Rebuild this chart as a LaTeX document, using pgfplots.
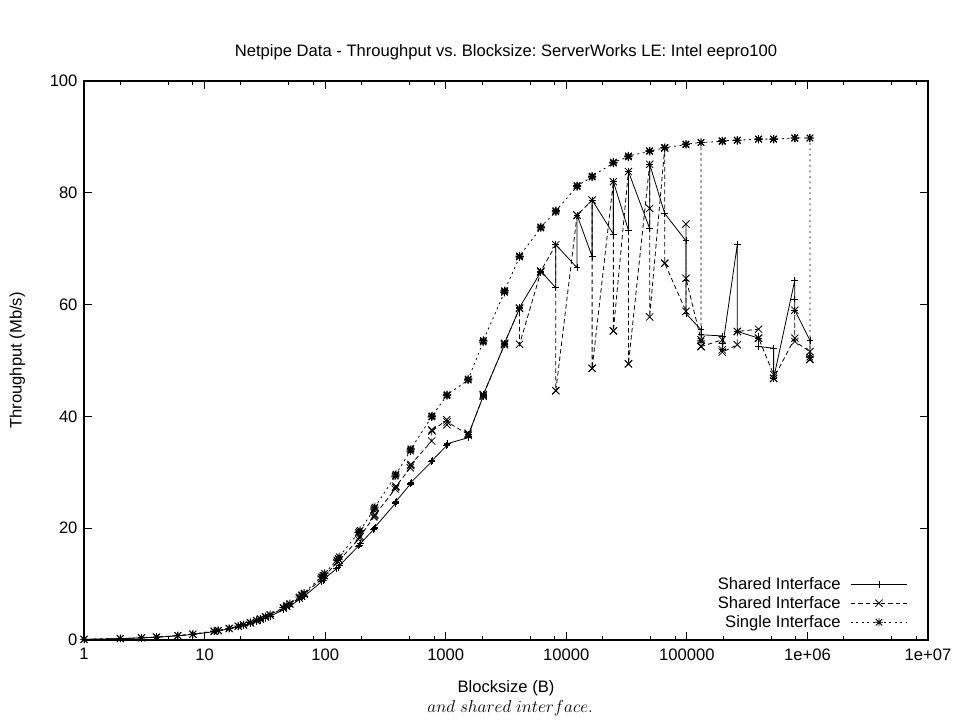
\documentclass[border=0pt]{standalone}
\usepackage{fontspec}
\usepackage{pgfplots}
\pgfplotsset{compat=1.18}
\usepackage{pgfplotstable}
\newfontfamily\arial{Liberation Sans}
\frenchspacing

\pgfdeclareplotmark{gpstar}{%
  \pgfpathmoveto{\pgfqpoint{-\pgfplotmarksize}{0pt}}\pgfpathlineto{\pgfqpoint{\pgfplotmarksize}{0pt}}%
  \pgfpathmoveto{\pgfqpoint{0pt}{-\pgfplotmarksize}}\pgfpathlineto{\pgfqpoint{0pt}{\pgfplotmarksize}}%
  \pgfpathmoveto{\pgfqpoint{-0.8\pgfplotmarksize}{-0.8\pgfplotmarksize}}\pgfpathlineto{\pgfqpoint{0.8\pgfplotmarksize}{0.8\pgfplotmarksize}}%
  \pgfpathmoveto{\pgfqpoint{-0.8\pgfplotmarksize}{0.8\pgfplotmarksize}}\pgfpathlineto{\pgfqpoint{0.8\pgfplotmarksize}{-0.8\pgfplotmarksize}}%
  \pgfusepathqstroke}
\pgfdeclareplotmark{gpx}{%
  \pgfpathmoveto{\pgfqpoint{-\pgfplotmarksize}{-\pgfplotmarksize}}\pgfpathlineto{\pgfqpoint{\pgfplotmarksize}{\pgfplotmarksize}}%
  \pgfpathmoveto{\pgfqpoint{-\pgfplotmarksize}{\pgfplotmarksize}}\pgfpathlineto{\pgfqpoint{\pgfplotmarksize}{-\pgfplotmarksize}}%
  \pgfusepathqstroke}

% Shared Interface (solid, +)
\pgfplotstableread{
x y
1 0.12
2 0.25
3 0.38
4 0.50
6 0.75
8 1.00
12 1.50
13 1.63
16 2.00
19 2.35
21 2.60
24 2.95
27 3.30
29 3.55
32 3.90
35 4.25
45 5.40
48 5.80
51 6.10
61 7.20
64 7.50
67 7.80
93 10.4
96 10.7
99 11.0
125 12.8
128 13.0
131 13.3
189 16.8
192 17.0
195 17.2
253 19.8
256 20.0
259 20.2
381 24.4
384 24.6
387 24.8
509 27.9
512 28.0
515 28.2
765 31.9
768 32.0
771 32.1
1021 34.8
1024 35.0
1027 35.1
1533 36.2
1536 36.5
1539 36.7
2045 43.6
2048 43.8
2051 43.9
3069 52.8
3072 53.0
3075 53.1
4093 59.3
4096 59.4
4099 59.5
6141 65.8
6144 65.9
6147 66.0
8189 63.0
8192 70.7
8195 70.7
12285 66.6
12288 76.0
12291 76.0
16381 68.6
16384 78.7
16387 78.7
24573 72.6
24576 82.0
24579 82.0
32765 73.3
32768 83.8
32771 83.8
49149 73.6
49152 85.1
49155 85.1
65533 76.3
65536 76.3
65539 76.3
98301 71.4
98304 64.4
98307 58.4
131069 55.5
131072 54.6
131075 54.6
196605 54.4
196608 53.0
196611 52.0
262141 70.8
262144 55.2
262147 55.2
393213 54.0
393216 52.5
393219 52.5
524285 52.2
524288 46.8
524291 46.8
786429 64.4
786432 61.0
786435 59.0
1048573 53.6
1048576 53.6
1048579 50.6
}\tA

% Shared Interface (dashed, x)
\pgfplotstableread{
x y
1 0.12
2 0.26
3 0.39
4 0.52
6 0.78
8 1.04
12 1.55
13 1.68
16 2.05
19 2.45
21 2.70
24 3.05
27 3.45
29 3.70
32 4.10
35 4.45
45 5.70
48 6.00
51 6.40
61 7.50
64 7.90
67 8.20
93 10.9
96 11.2
99 11.5
125 13.8
128 14.0
131 14.3
189 18.0
192 18.3
195 18.5
253 22.0
256 22.2
259 22.4
381 27.0
384 27.3
387 27.5
509 30.8
512 31.2
515 31.4
765 35.6
768 37.6
771 37.4
1021 39.4
1024 38.5
1027 39.0
1533 36.8
1536 37.0
1539 36.6
2045 43.6
2048 43.8
2051 43.9
3069 52.8
3072 53.0
3075 53.1
4093 59.3
4096 59.4
4099 52.9
6141 65.8
6144 65.9
6147 66.0
8189 70.7
8192 44.6
8195 44.6
12285 76.0
12288 76.0
12291 76.0
16381 78.7
16384 48.6
16387 48.6
24573 82.0
24576 55.3
24579 55.3
32765 83.8
32768 49.4
32771 49.4
49149 85.1
49152 77.2
49155 57.8
65533 88.0
65536 67.4
65539 67.4
98301 58.8
98304 74.4
98307 64.7
131069 53.7
131072 52.5
131075 52.5
196605 53.7
196608 51.9
196611 51.5
262141 52.8
262144 55.2
262147 55.2
393213 55.6
393216 54.0
393219 54.0
524285 47.5
524288 46.8
524291 46.8
786429 54.0
786432 59.0
786435 53.4
1048573 51.6
1048576 50.2
1048579 50.2
}\tB

% Single Interface (dotted, star)
\pgfplotstableread{
x y
1 0.13
2 0.27
3 0.40
4 0.53
6 0.80
8 1.06
12 1.60
13 1.73
16 2.10
19 2.50
21 2.75
24 3.15
27 3.50
29 3.80
32 4.20
35 4.55
45 5.80
48 6.20
51 6.50
61 7.70
64 8.10
67 8.40
93 11.3
96 11.6
99 11.9
125 14.3
128 14.6
131 14.9
189 19.2
192 19.4
195 19.6
253 23.3
256 23.6
259 23.8
381 29.3
384 29.5
387 29.7
509 33.8
512 34.0
515 34.2
765 39.9
768 40.0
771 40.1
1021 43.7
1024 43.8
1027 43.9
1533 46.5
1536 46.6
1539 46.7
2045 53.3
2048 53.5
2051 53.6
3069 62.2
3072 62.4
3075 62.5
4093 68.5
4096 68.6
4099 68.7
6141 73.7
6144 73.8
6147 73.9
8189 76.6
8192 76.7
8195 76.8
12285 81.1
12288 81.2
12291 81.3
16381 82.8
16384 82.9
16387 83.0
24573 85.3
24576 85.4
24579 85.5
32765 86.4
32768 86.5
32771 86.6
49149 87.4
49152 87.5
49155 87.5
65533 88.0
65536 88.1
65539 88.1
98301 88.6
98304 88.7
98307 88.7
131069 89.0
131072 53.5
131075 89.0
196605 89.2
196608 89.3
196611 89.3
262141 89.4
262144 89.4
262147 89.4
393213 89.6
393216 89.6
393219 89.6
524285 89.6
524288 89.6
524291 89.6
786429 89.8
786432 89.8
786435 89.8
1048573 89.8
1048576 89.8
1048579 50.6
}\tS

\begin{document}
\begin{tikzpicture}[font=\arial\fontsize{16.6}{19}\selectfont]
\begin{axis}[
  scale only axis, width=844pt, height=559pt,
  xmode=log, log basis x=10,
  xmin=1, xmax=1e7, ymin=0, ymax=100,
  xtick={1,10,100,1000,10000,100000,1000000,10000000},
  xticklabels={1,10,100,1000,10000,100000,1e+06,1e+07},
  minor xtick={2,5,8,20,50,80,200,500,800,2000,5000,8000,20000,50000,80000,200000,500000,800000,2000000,5000000,8000000},
  ytick={0,20,40,60,80,100},
  /pgf/number format/assume math mode=true,
  tick align=inside,
  major tick length=8pt, minor tick length=4pt,
  tick style={black, line width=0.9pt},
  axis line style={line width=1.2pt},
  xticklabel style={yshift=-5pt},
  yticklabel style={xshift=-3pt},
  title={Netpipe Data - Throughput vs.\ Blocksize: ServerWorks LE: Intel eepro100},
  title style={at={(axis description cs:0.5,1.041)}, anchor=center, yshift=0pt},
  xlabel={Blocksize (B)},
  xlabel style={at={(axis description cs:0.5,-0.086)}, anchor=center},
  ylabel={Throughput (Mb/s)},
  ylabel style={at={(axis description cs:-0.079,0.5)}, anchor=center},
  legend style={draw=none, fill=none, at={(axis description cs:0.977,0.014)}, anchor=south east, row sep=1.5pt, inner sep=1pt,
    /tikz/every odd column/.append style={column sep=8pt}},
  legend cell align=right,
  legend plot pos=right,
  legend image code/.code={\draw[mark repeat=2,mark phase=2,#1] plot coordinates {(0pt,0pt) (28pt,0pt) (56pt,0pt)};},
  clip=false,
]
\addplot[black, line width=0.8pt, mark=+, mark size=3.4pt, mark options={solid, line width=0.8pt}] table[x=x,y=y] {\tA};
\addlegendentry{Shared Interface}
\addplot[black, line width=0.8pt, dash pattern=on 4.5pt off 3pt, mark=gpx, mark size=3.6pt, mark options={solid, line width=0.8pt}] table[x=x,y=y] {\tB};
\addlegendentry{Shared Interface}
\addplot[black, line width=0.8pt, dash pattern=on 2pt off 3.5pt, mark=gpstar, mark size=4pt, mark options={solid, line width=0.9pt}] table[x=x,y=y] {\tS};
\addlegendentry{Single Interface}
\node[font=\rmfamily\fontsize{16}{18}\selectfont] at (axis description cs:0.505,-0.122) {$and\ shared\ interface.$};
\end{axis}
\pgfresetboundingbox
\path[use as bounding box] (-84pt,-81pt) rectangle (871pt,640pt);
\end{tikzpicture}
\end{document}
